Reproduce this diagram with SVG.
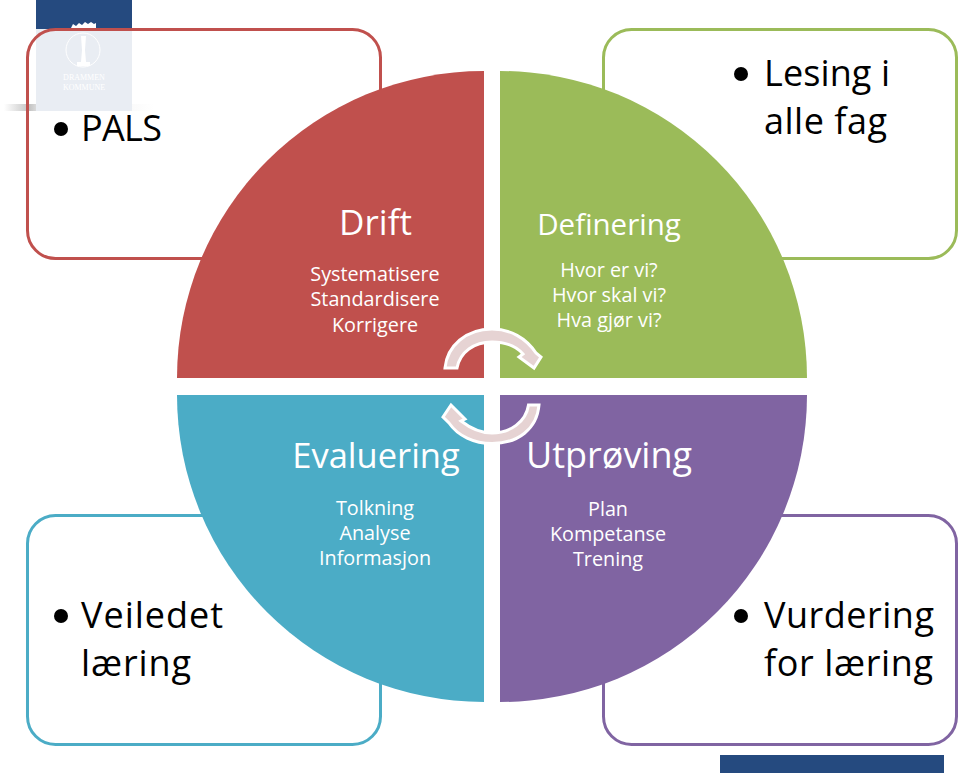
<svg xmlns="http://www.w3.org/2000/svg" width="960" height="773" viewBox="0 0 960 773">
<style>
text{font-family:"Open Sans","Noto Sans",sans-serif}
.box{fill:none;stroke-width:3}
.big{font-size:36px;fill:#000}
.head{fill:#fff;text-anchor:middle}
.sub{font-size:19.8px;fill:#fff;text-anchor:middle}
.arc{fill:#e6d3d3;stroke:#fff;stroke-width:3;stroke-linejoin:miter}
</style>
<defs>
<linearGradient id="shade" x1="0" x2="1" y1="0" y2="0"><stop offset="0" stop-color="#fff"/><stop offset=".17" stop-color="#aaa"/><stop offset=".24" stop-color="#ddd"/><stop offset="1" stop-color="#fff"/></linearGradient>
</defs>
<rect width="960" height="773" fill="#fff"/>
<g id="logo">
<rect x="4" y="104" width="150" height="7" fill="url(#shade)" opacity=".7"/>
<rect x="36" y="0" width="96" height="111" fill="#e9edf3"/>
<rect x="36" y="0" width="96" height="29" fill="#254a7f"/>
<path d="M71 28l2-4 3 2 3-3 3 2 3-3 3 2 3-2 3 2 2-1v5z" fill="#fff"/>
<path d="M81 36h5l-1 14 1 12h4v4H77v-4h4l1-12z" fill="#fff"/>
<circle cx="83" cy="50" r="17" fill="none" stroke="#fff" stroke-width="1"/>
<text x="84" y="80" font-size="8" fill="#fff" text-anchor="middle" style="font-family:'Liberation Serif',serif">DRAMMEN</text>
<text x="84" y="90" font-size="8" fill="#fff" text-anchor="middle" style="font-family:'Liberation Serif',serif">KOMMUNE</text>
</g>
<rect id="footer-bar" x="720" y="755" width="224" height="18" fill="#254a7f"/>
<g id="box-pals">
<rect class="box" x="27.500" y="29.500" width="353" height="229" rx="28" stroke="#c0504d"/>
<circle cx="61" cy="129" r="7"/>
<text class="big" x="81" y="141" textLength="81">PALS</text>
</g>
<g id="box-lesing">
<rect class="box" x="603.500" y="29.500" width="353" height="229" rx="28" stroke="#9bbb59"/>
<circle cx="741" cy="74" r="7"/>
<text class="big" x="764" y="86" textLength="126">Lesing i</text>
<text class="big" x="764" y="134" textLength="123">alle fag</text>
</g>
<g id="box-veiledet">
<rect class="box" x="27.500" y="515.500" width="353" height="229" rx="28" stroke="#4bacc6"/>
<circle cx="61" cy="616" r="7"/>
<text class="big" x="81" y="628" textLength="142">Veiledet</text>
<text class="big" x="81" y="676" textLength="110">læring</text>
</g>
<g id="box-vurdering">
<rect class="box" x="603.500" y="515.500" width="353" height="229" rx="28" stroke="#8064a2"/>
<circle cx="741" cy="616" r="7"/>
<text class="big" x="764" y="628" textLength="170">Vurdering</text>
<text class="big" x="764" y="676" textLength="169">for læring</text>
</g>
<g id="drift">
<path d="M484 378H177A307 307 0 0 1 484 71z" fill="#c0504d"/>
<text class="head" x="375.500" y="235" font-size="35">Drift</text>
<text class="sub" x="375" y="281">Systematisere</text>
<text class="sub" x="375" y="306">Standardisere</text>
<text class="sub" x="375" y="332">Korrigere</text>
</g>
<g id="definering">
<path d="M500 378H807A307 307 0 0 0 500 71z" fill="#9bbb59"/>
<text class="head" x="609" y="235" font-size="29.500">Definering</text>
<text class="sub" x="609" y="277">Hvor er vi?</text>
<text class="sub" x="609" y="302">Hvor skal vi?</text>
<text class="sub" x="609" y="327">Hva gjør vi?</text>
</g>
<g id="evaluering">
<path d="M484 395H177A307 307 0 0 0 484 702z" fill="#4bacc6"/>
<text class="head" x="376" y="468" font-size="34.500">Evaluering</text>
<text class="sub" x="375" y="515">Tolkning</text>
<text class="sub" x="375" y="540">Analyse</text>
<text class="sub" x="375" y="565">Informasjon</text>
</g>
<g id="utproving">
<path d="M500 395H807A307 307 0 0 1 500 702z" fill="#8064a2"/>
<text class="head" x="609" y="468" font-size="36">Utprøving</text>
<text class="sub" x="608" y="516">Plan</text>
<text class="sub" x="608" y="541">Kompetanse</text>
<text class="sub" x="608" y="566">Trening</text>
</g>
<g id="connectors">
<path class="arc" d="M445 368C447 346 466 329 492 329C510 329 526 338 536 353L541 357L534 368L519 357L523 354C516 346 505 342 492 342C474 342 460 352 457 368z"/>
<path class="arc" d="M539 405C537 429 518 443.500 492 443.500C474 443.500 458 436 449 423L443 417L451 405L465 419L461 421C470 428 481 433 492 433C510 433 526 422 528.500 405z"/>
</g>
</svg>
